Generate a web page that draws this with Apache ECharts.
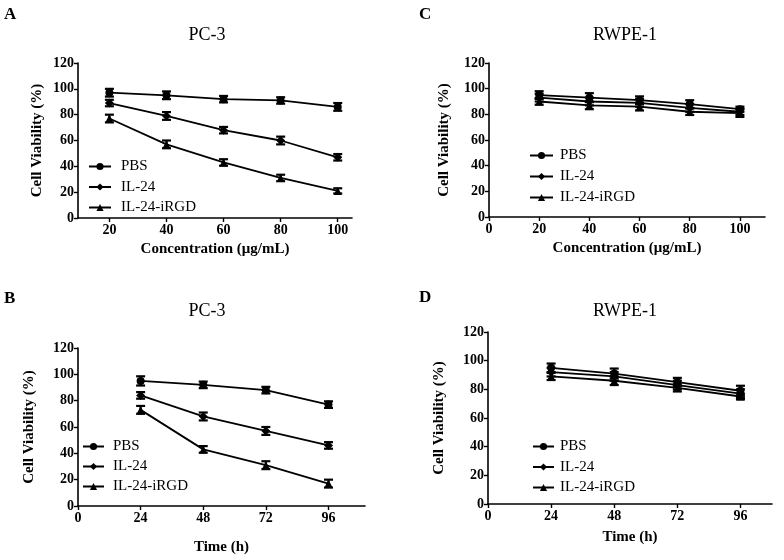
<!DOCTYPE html>
<html>
<head>
<meta charset="utf-8">
<script src="https://cdn.jsdelivr.net/npm/echarts@6/dist/echarts.min.js"></script>
<style>html,body{margin:0;padding:0;background:#fff;}#c{width:784px;height:560px;}</style>
</head>
<body>
<div id="c"></div>
<script>
// ---- data ----
var concentrations = [20, 40, 60, 80, 100];
var times = [24, 48, 72, 96];
var seriesNames = ['PBS', 'IL-24', 'IL-24-iRGD'];
var concTicks = [20, 40, 60, 80, 100];
var concTicksC = [0, 20, 40, 60, 80, 100];
var timeTicks = [0, 24, 48, 72, 96];

// Panel A: PC-3 vs concentration
var A_PBS = [97, 95, 92, 91, 86];
var A_IL24 = [89, 79, 68, 60, 47];
var A_iRGD = [77, 57, 43, 31, 21];
var A_errPBS = [3, 3, 2.5, 2.5, 3];
var A_errIL24 = [2.5, 3, 2.5, 3, 2.5];
var A_errIRGD = [3, 3, 2.5, 2.5, 2];
// Panel C: RWPE-1 vs concentration
var C_PBS = [95, 93, 91, 88, 84];
var C_IL24 = [93, 90, 89, 85, 82];
var C_iRGD = [90, 87, 86, 82, 81];
var C_errPBS = [3, 3.5, 3, 3, 2];
var C_errIL24 = [3, 3, 3, 3, 2.5];
var C_errIRGD = [2.5, 3, 3, 2.5, 3];
// Panel B: PC-3 vs time
var B_PBS = [95, 92, 88, 77];
var B_IL24 = [84, 68, 57, 46];
var B_iRGD = [73, 43, 31, 17];
var B_errPBS = [3.5, 2.5, 2.5, 2.5];
var B_errIL24 = [2.5, 3, 3, 2.5];
var B_errIRGD = [3, 2.5, 3, 3];
// Panel D: RWPE-1 vs time
var D_PBS = [95, 91, 85, 79];
var D_IL24 = [92, 89, 83, 77];
var D_iRGD = [89, 86, 81, 75];
var D_errPBS = [3, 3.5, 3, 3.5];
var D_errIL24 = [3, 3, 3, 3];
var D_errIRGD = [2.5, 3, 2.5, 2];

var symbols = ['circle', 'diamond', 'triangle'];
var SERIF = '"Liberation Serif", "DejaVu Serif", serif';

var panels = [
  {x: concentrations, vals: [A_PBS, A_IL24, A_iRGD], errs: [A_errPBS, A_errIL24, A_errIRGD],
   grid: {left: 78, top: 63, width: 274, height: 155}, xmin: 9, xmax: 105, ticks: concTicks,
   xname: 'Concentration (μg/mL)', xgap: 24, ygap: 33,
   legend: {left: 88, top: 159, w: 22, pad: 5, gap: 5.5}},
  {x: concentrations, vals: [C_PBS, C_IL24, C_iRGD], errs: [C_errPBS, C_errIL24, C_errIRGD],
   grid: {left: 489, top: 63, width: 276, height: 154}, xmin: 0, xmax: 110, ticks: concTicksC,
   xname: 'Concentration (μg/mL)', xgap: 24, ygap: 37,
   legend: {left: 529, top: 148, w: 23, pad: 2, gap: 6}},
  {x: times, vals: [B_PBS, B_IL24, B_iRGD], errs: [B_errPBS, B_errIL24, B_errIRGD],
   grid: {left: 78, top: 348, width: 287, height: 158}, xmin: 0, xmax: 110, ticks: timeTicks,
   xname: 'Time (h)', xgap: 34, ygap: 41,
   legend: {left: 82, top: 439, w: 21, pad: 4, gap: 5}},
  {x: times, vals: [D_PBS, D_IL24, D_iRGD], errs: [D_errPBS, D_errIL24, D_errIRGD],
   grid: {left: 488, top: 332, width: 284, height: 172}, xmin: 0, xmax: 108, ticks: timeTicks,
   xname: 'Time (h)', xgap: 26, ygap: 41,
   legend: {left: 532, top: 439, w: 21, pad: 1, gap: 5.5}}
];

var titles = [
  {text: 'PC-3', x: 207, y: 35}, {text: 'RWPE-1', x: 625, y: 35},
  {text: 'PC-3', x: 207, y: 311}, {text: 'RWPE-1', x: 625, y: 311}
];
var letters = [
  {text: 'A', x: 4, y: 6}, {text: 'C', x: 419, y: 6},
  {text: 'B', x: 4, y: 290}, {text: 'D', x: 419, y: 289}
];

var option = {
  backgroundColor: '#fff',
  animation: false,
  grid: [], xAxis: [], yAxis: [], legend: [], series: [],
  graphic: []
};

titles.forEach(function (t) {
  option.graphic.push({type: 'text', x: t.x, y: t.y, style: {text: t.text, font: '18px ' + SERIF, fill: '#000', textAlign: 'center', textVerticalAlign: 'middle'}});
});
letters.forEach(function (t) {
  option.graphic.push({type: 'text', x: t.x, y: t.y, style: {text: t.text, font: 'bold 17px ' + SERIF, fill: '#000', textVerticalAlign: 'top'}});
});

panels.forEach(function (p, i) {
  option.grid.push(Object.assign({containLabel: false}, p.grid));
  option.xAxis.push({
    type: 'value', gridIndex: i, min: p.xmin, max: p.xmax,
    name: p.xname, nameLocation: 'middle', nameGap: p.xgap,
    nameTextStyle: {fontFamily: SERIF, fontWeight: 'bold', fontSize: 15, color: '#000'},
    axisLine: {show: true, onZero: false, lineStyle: {color: '#000', width: 1.6}},
    axisTick: {show: true, length: 4, inside: false, customValues: p.ticks, lineStyle: {color: '#000', width: 1.4}},
    axisLabel: {customValues: p.ticks, fontFamily: SERIF, fontWeight: 'bold', fontSize: 14, color: '#000', margin: 5},
    splitLine: {show: false}
  });
  option.yAxis.push({
    type: 'value', gridIndex: i, min: 0, max: 120, interval: 20,
    name: 'Cell Viability (%)', nameLocation: 'middle', nameGap: p.ygap,
    nameTextStyle: {fontFamily: SERIF, fontWeight: 'bold', fontSize: 15, color: '#000'},
    axisLine: {show: true, lineStyle: {color: '#000', width: 1.6}},
    axisTick: {show: true, length: 4, lineStyle: {color: '#000', width: 1.4}},
    axisLabel: {fontFamily: SERIF, fontWeight: 'bold', fontSize: 14, color: '#000', margin: 4},
    splitLine: {show: false}
  });
  option.legend.push({
    left: p.legend.left, top: p.legend.top, orient: 'vertical', padding: 0,
    data: seriesNames, itemWidth: p.legend.w, itemHeight: 9, itemGap: p.legend.gap,
    selectedMode: false,
    itemStyle: {color: '#000'},
    lineStyle: {color: '#000', width: 2},
    textStyle: {fontFamily: SERIF, fontSize: 15, lineHeight: 14, height: 14, color: '#000', padding: [0, 0, 0, p.legend.pad]}
  });
  seriesNames.forEach(function (name, k) {
    var pts = p.x.map(function (xv, j) { return [xv, p.vals[k][j]]; });
    var errPts = p.x.map(function (xv, j) { return [xv, p.vals[k][j] - p.errs[k][j], p.vals[k][j] + p.errs[k][j]]; });
    option.series.push({
      type: 'custom', xAxisIndex: i, yAxisIndex: i, silent: true, z: 3,
      data: errPts,
      renderItem: function (params, api) {
        var lo = api.coord([api.value(0), api.value(1)]);
        var hi = api.coord([api.value(0), api.value(2)]);
        var w = 4.5;
        var st = {stroke: '#000', lineWidth: 2.2};
        return {type: 'group', children: [
          {type: 'line', shape: {x1: lo[0], y1: lo[1], x2: hi[0], y2: hi[1]}, style: st},
          {type: 'line', shape: {x1: lo[0] - w, y1: lo[1], x2: lo[0] + w, y2: lo[1]}, style: st},
          {type: 'line', shape: {x1: hi[0] - w, y1: hi[1], x2: hi[0] + w, y2: hi[1]}, style: st}
        ]};
      }
    });
    option.series.push({
      name: name, type: 'line', xAxisIndex: i, yAxisIndex: i, z: 4,
      data: pts, symbol: symbols[k], symbolSize: k === 1 ? 9 : 8,
      lineStyle: {color: '#000', width: 1.8}, itemStyle: {color: '#000'},
      showSymbol: true
    });
  });
});

var chart = echarts.init(document.getElementById('c'), null, {renderer: 'canvas'});
chart.setOption(option);
</script>
</body>
</html>
